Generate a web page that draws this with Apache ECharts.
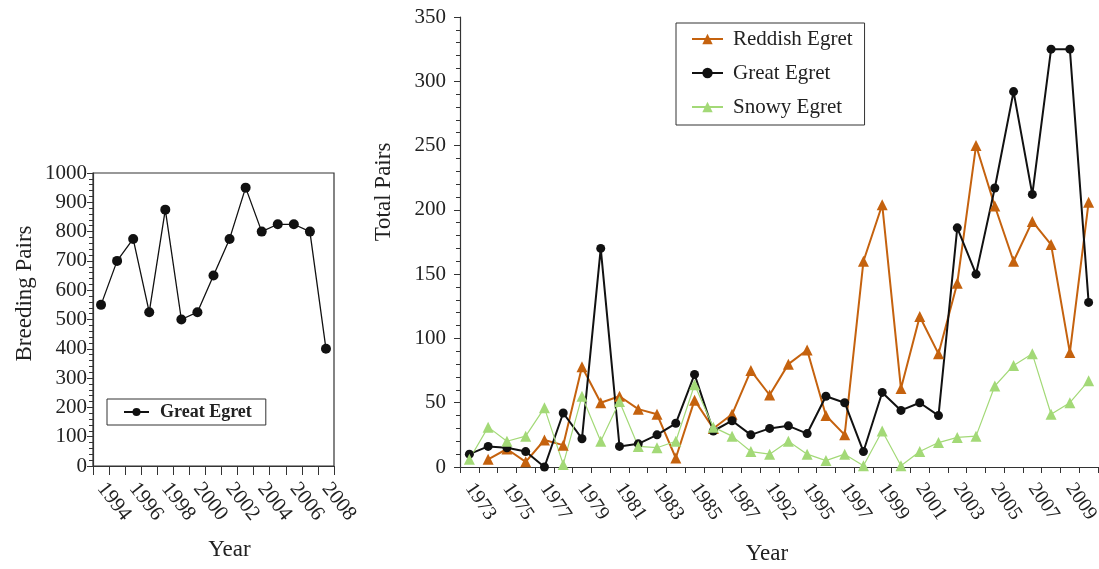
<!DOCTYPE html>
<html>
<head>
<meta charset="utf-8">
<script src="https://cdn.jsdelivr.net/npm/echarts@6/dist/echarts.min.js"></script>
<style>
  html, body { margin: 0; padding: 0; background: #fff; }
  #chart { width: 1099px; height: 569px; }
</style>
</head>
<body>
<div id="chart"></div>
<script>
// Left panel: Great Egret breeding pairs per year
const breedingYears = ['1994', '1995', '1996', '1997', '1998', '1999', '2000', '2001',
  '2002', '2003', '2004', '2005', '2006', '2007', '2008'];
const breedingPairs = [550, 700, 775, 525, 875, 500, 525, 650, 775, 950, 800, 825, 825, 800, 400];

// Right panel: total pairs per survey year (survey years are not contiguous)
const surveyYears = ['1973', '1974', '1975', '1976', '1977', '1978', '1979', '1980', '1981',
  '1982', '1983', '1984', '1985', '1986', '1987', '1990', '1992', '1993', '1995', '1996',
  '1997', '1998', '1999', '2000', '2001', '2002', '2003', '2004', '2005', '2006', '2007',
  '2008', '2009', '2010'];
const reddishEgret = [null, 6, 14, 4, 21, 17, 78, 50, 55, 45, 41, 7, 52, 30, 41, 75, 56,
  80, 91, 40, 25, 160, 204, 61, 117, 88, 143, 250, 203, 160, 191, 173, 89, 206];
const greatEgret = [10, 16, 15, 12, 0, 42, 22, 170, 16, 18, 25, 34, 72, 28, 36, 25, 30,
  32, 26, 55, 50, 12, 58, 44, 50, 40, 186, 150, 217, 292, 212, 325, 325, 128];
const snowyEgret = [6, 31, 20, 24, 46, 2, 55, 20, 51, 16, 15, 20, 64, 31, 24, 12, 10,
  20, 10, 5, 10, 1, 28, 1, 12, 19, 23, 24, 63, 79, 88, 41, 50, 67];

const FONT = 'Liberation Serif';
const INK = '#222';
const AXIS = '#333';
const ORANGE = '#c5620e';
const BLACK = '#111';
const GREEN = '#a3d977';

const chart = echarts.init(document.getElementById('chart'), null, { renderer: 'canvas' });

function valueAxis(gridIndex, max, interval, name, gap, shift, labelMargin) {
  return {
    type: 'value', gridIndex, min: 0, max, interval,
    name, nameLocation: 'middle', nameGap: gap,
    nameTextStyle: { fontFamily: FONT, fontSize: 23, color: INK, padding: [0, 0, 0, shift] },
    axisLine: { show: true, lineStyle: { color: AXIS, width: 1.2 } },
    axisTick: { show: true, inside: false, length: 6, lineStyle: { color: AXIS } },
    minorTick: { show: true, splitNumber: 5, length: 4, lineStyle: { color: AXIS } },
    splitLine: { show: false },
    axisLabel: {
      fontFamily: FONT, fontSize: 21, color: INK, margin: labelMargin,
      formatter: v => String(v)
    }
  };
}

function categoryAxis(gridIndex, data, tickLen, gap, shift, labelMargin, labelSize, rotate) {
  return {
    type: 'category', gridIndex, data, boundaryGap: true,
    name: 'Year', nameLocation: 'middle', nameGap: gap,
    nameTextStyle: { fontFamily: FONT, fontSize: 23, color: INK, padding: [0, 0, 0, shift] },
    axisLine: { show: true, lineStyle: { color: AXIS, width: 1.2 } },
    axisTick: { show: true, interval: 0, length: tickLen, lineStyle: { color: AXIS } },
    splitLine: { show: false },
    axisLabel: {
      interval: 1, rotate, fontFamily: FONT, fontSize: labelSize, color: INK,
      margin: labelMargin
    }
  };
}

function lineSeries(name, data, color, symbol, size, width, xi) {
  return {
    type: 'line', name, data, xAxisIndex: xi, yAxisIndex: xi,
    symbol, symbolSize: size, showAllSymbol: true, connectNulls: false,
    lineStyle: { color, width },
    itemStyle: { color, borderWidth: 0 },
    emphasis: { disabled: true },
    silent: true
  };
}

chart.setOption({
  animation: false,
  backgroundColor: '#fff',
  grid: [
    { left: 93, top: 173, width: 241, height: 293, outerBoundsMode: 'none', containLabel: false,
      show: true, borderColor: AXIS, borderWidth: 1.2, backgroundColor: 'transparent' },
    { left: 460, top: 17, width: 638, height: 450, outerBoundsMode: 'none', containLabel: false }
  ],
  xAxis: [
    categoryAxis(0, breedingYears, 9, 72, 32, 19, 21, -52),
    categoryAxis(1, surveyYears, 6, 75, -24, 18, 20, -56)
  ],
  yAxis: [
    valueAxis(0, 1000, 100, 'Breeding Pairs', 57, 52, 6),
    valueAxis(1, 350, 50, 'Total Pairs', 65, 100, 14)
  ],
  legend: [
    {
      data: ['Great Egret'],
      left: 107, top: 399, orient: 'vertical',
      padding: [4, 14, 4, 16],
      borderColor: AXIS, borderWidth: 1,
      itemWidth: 25, itemHeight: 10,
      textStyle: { fontFamily: FONT, fontSize: 18, fontWeight: 'bold', color: INK, padding: [0, 0, 0, 6] },
      selectedMode: false
    },
    {
      data: ['Reddish Egret', 'Great Egret', 'Snowy Egret'],
      left: 676, top: 23, orient: 'vertical',
      padding: [5, 12, 7, 15],
      itemGap: 12,
      borderColor: AXIS, borderWidth: 1,
      itemWidth: 31, itemHeight: 13,
      textStyle: { fontFamily: FONT, fontSize: 21, color: INK, lineHeight: 22, padding: [0, 0, 0, 5] },
      selectedMode: false
    }
  ],
  series: [
    lineSeries('Great Egret', breedingPairs, BLACK, 'circle', 10, 1.3, 0),
    lineSeries('Reddish Egret', reddishEgret, ORANGE, 'triangle', 11, 2, 1),
    lineSeries('Great Egret', greatEgret, BLACK, 'circle', 9, 2, 1),
    lineSeries('Snowy Egret', snowyEgret, GREEN, 'triangle', 11, 1.2, 1)
  ]
});
</script>
</body>
</html>
